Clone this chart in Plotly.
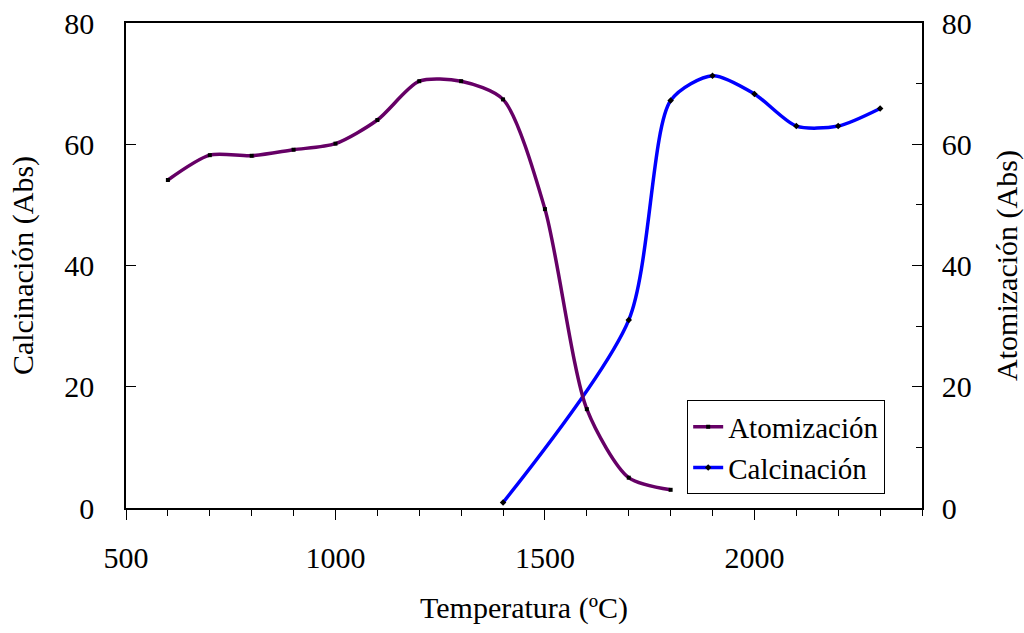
import plotly.graph_objects as go

temp_atom = [600, 700, 800, 900, 1000, 1100, 1200, 1300, 1400, 1500, 1600, 1700, 1800]
abs_atom = [54.1, 58.2, 58.1, 59.1, 60.1, 64.0, 70.4, 70.4, 67.4, 49.3, 16.3, 5.0, 3.0]

temp_calc = [1400, 1700, 1800, 1900, 2000, 2100, 2200, 2300]
abs_calc = [0.9, 31.0, 67.2, 71.3, 68.3, 63.0, 63.0, 65.9]

FONT = "Liberation Serif"

fig = go.Figure()
fig.add_trace(go.Scatter(
    x=temp_atom, y=abs_atom, name="Atomización", yaxis="y2",
    mode="lines+markers",
    line=dict(color="#660066", width=3.5, shape="spline", smoothing=0.75),
    marker=dict(symbol="square", size=4, color="black"),
))
fig.add_trace(go.Scatter(
    x=temp_calc, y=abs_calc, name="Calcinación", yaxis="y",
    mode="lines+markers",
    line=dict(color="#0000ff", width=3.5, shape="spline", smoothing=0.75),
    marker=dict(symbol="diamond", size=5, color="black"),
))

fig.update_layout(
    width=1024, height=633,
    margin=dict(l=126, r=102, t=23, b=125, autoexpand=False),
    paper_bgcolor="white", plot_bgcolor="white",
    font=dict(family=FONT, size=30, color="black"),
    showlegend=True,
    legend=dict(
        x=0.705, y=0.222, xanchor="left", yanchor="top",
        bordercolor="black", borderwidth=1, bgcolor="white",
        font=dict(family=FONT, size=29, color="black"),
        tracegroupgap=0,
    ),
    xaxis=dict(
        range=[500, 2400], tickvals=[500, 1000, 1500, 2000],
        ticks="outside", ticklen=10, tickwidth=1, tickcolor="black",
        minor=dict(dtick=100, tick0=500, ticks="outside", ticklen=6, tickwidth=1, tickcolor="black"),
        showline=True, linecolor="black", linewidth=1.5, mirror=True,
        showgrid=False, zeroline=False, automargin=False,
        ticklabelstandoff=12,
        title=dict(text="Temperatura (ºC)", standoff=24, font=dict(size=30)),
    ),
    yaxis=dict(
        range=[0, 80], tickvals=[0, 20, 40, 60, 80],
        ticks="inside", ticklen=10, tickwidth=1, tickcolor="black",
        showline=True, linecolor="black", linewidth=1.5,
        showgrid=False, zeroline=False, automargin=False,
        ticklabelstandoff=24,
        title=dict(text="Calcinación (Abs)", standoff=22, font=dict(size=30)),
    ),
    yaxis2=dict(
        range=[0, 80], tickvals=[0, 20, 40, 60, 80],
        overlaying="y", side="right",
        ticks="inside", ticklen=10, tickwidth=1, tickcolor="black",
        minor=dict(dtick=10, tick0=0, ticks="inside", ticklen=6, tickwidth=1, tickcolor="black"),
        showline=True, linecolor="black", linewidth=1.5,
        showgrid=False, zeroline=False, automargin=False,
        ticklabelstandoff=12,
        title=dict(text="Atomización (Abs)", standoff=26, font=dict(size=30)),
    ),
)

fig.write_html("out.html")
